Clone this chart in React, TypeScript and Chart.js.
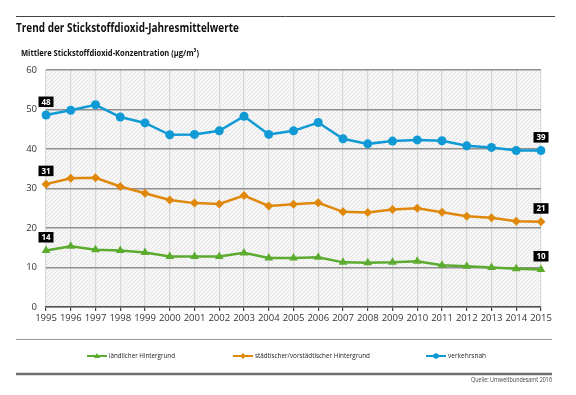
import React, { useEffect, useRef } from "react";
import { Chart, registerables } from "chart.js";

Chart.register(...registerables);

const years = ["1995","1996","1997","1998","1999","2000","2001","2002","2003","2004","2005","2006","2007","2008","2009","2010","2011","2012","2013","2014","2015"];
const laendlich = [14.3,15.4,14.5,14.3,13.8,12.8,12.8,12.8,13.7,12.4,12.4,12.6,11.3,11.2,11.3,11.6,10.6,10.3,10.0,9.7,9.5];
const staedtisch = [31.1,32.6,32.7,30.5,28.8,27.1,26.3,26.1,28.2,25.6,26.0,26.4,24.1,23.9,24.7,25.0,24.0,23.0,22.6,21.7,21.6];
const verkehrsnah = [48.6,49.8,51.2,48.1,46.6,43.6,43.7,44.6,48.3,43.7,44.6,46.7,42.6,41.3,42.0,42.3,42.1,40.8,40.4,39.6,39.6];
const startLabels = ["14","31","48"];
const endLabels = ["10","21","39"];
const seriesNames = ["ländlicher Hintergrund","städtischer/vorstädtischer Hintergrund","verkehrsnah"];
const yTicks = [0,10,20,30,40,50,60];

const GREEN = "#5bab2f";
const ORANGE = "#e0880b";
const BLUE = "#0f9ad6";
const FONT = "'Open Sans', 'Noto Sans', sans-serif";

export default function App() {
  const ref = useRef<HTMLCanvasElement | null>(null);
  useEffect(() => {
    document.body.style.margin = "0";
    const canvas = ref.current!;
    const pc = document.createElement("canvas");
    pc.width = 4; pc.height = 4;
    const pctx = pc.getContext("2d")!;
    pctx.fillStyle = "#f6f6f6";
    pctx.fillRect(0, 0, 4, 4);
    pctx.strokeStyle = "#e1e1e1";
    pctx.lineWidth = 0.8;
    pctx.beginPath();
    pctx.moveTo(0, 4); pctx.lineTo(4, 0);
    pctx.moveTo(-1, 1); pctx.lineTo(1, -1);
    pctx.moveTo(3, 5); pctx.lineTo(5, 3);
    pctx.stroke();

    const colors = [GREEN, ORANGE, BLUE];
    const pointStyles = ["triangle", "rectRot", "circle"];

    const deco = {
      id: "deco",
      beforeDraw(chart: any) {
        const { ctx, chartArea } = chart;
        ctx.save();
        ctx.fillStyle = "#fff";
        ctx.fillRect(0, 0, chart.width, chart.height);
        const pat = ctx.createPattern(pc, "repeat");
        ctx.fillStyle = pat;
        ctx.fillRect(chartArea.left, chartArea.top, chartArea.right - chartArea.left, chartArea.bottom - chartArea.top);
        ctx.restore();
      },
      afterDraw(chart: any) {
        const ctx = chart.ctx;
        ctx.save();
        // rules
        ctx.strokeStyle = "#444";
        ctx.lineWidth = 1;
        ctx.beginPath(); ctx.moveTo(16, 16.5); ctx.lineTo(555, 16.5); ctx.stroke();
        ctx.strokeStyle = "#999";
        ctx.beginPath(); ctx.moveTo(16, 339.5); ctx.lineTo(552, 339.5); ctx.stroke();
        ctx.strokeStyle = "#6e6e6e";
        ctx.lineWidth = 2.5;
        ctx.beginPath(); ctx.moveTo(16, 374); ctx.lineTo(552, 374); ctx.stroke();
        // title
        ctx.fillStyle = "#111";
        ctx.textAlign = "left";
        ctx.textBaseline = "alphabetic";
        ctx.font = `bold 13px ${FONT}`;
        ctx.fillText("Trend der Stickstoffdioxid-Jahresmittelwerte", 16, 31.5, 223);
        ctx.font = `bold 9.5px ${FONT}`;
        ctx.fillText("Mittlere Stickstoffdioxid-Konzentration (µg/m³)", 21, 56, 178);
        // legend
        const legendX = [87, 233, 426];
        const legendW = [66, 115, 38];
        for (let i = 0; i < 3; i++) {
          const x = legendX[i];
          const y = 356;
          ctx.strokeStyle = colors[i];
          ctx.lineWidth = 2;
          ctx.beginPath(); ctx.moveTo(x, y); ctx.lineTo(x + 20, y); ctx.stroke();
          ctx.fillStyle = colors[i];
          ctx.beginPath();
          if (i === 0) { ctx.moveTo(x + 10, y - 3); ctx.lineTo(x + 13, y + 2); ctx.lineTo(x + 7, y + 2); ctx.closePath(); }
          else if (i === 1) { ctx.moveTo(x + 10, y - 3); ctx.lineTo(x + 13, y); ctx.lineTo(x + 10, y + 3); ctx.lineTo(x + 7, y); ctx.closePath(); }
          else { ctx.arc(x + 10, y, 2.8, 0, Math.PI * 2); }
          ctx.fill();
          ctx.fillStyle = "#222";
          ctx.font = `7.5px ${FONT}`;
          ctx.textBaseline = "middle";
          ctx.fillText(seriesNames[i], x + 22, y, legendW[i]);
        }
        // source
        ctx.textAlign = "right";
        ctx.textBaseline = "middle";
        ctx.font = `6.5px ${FONT}`;
        ctx.fillStyle = "#444";
        ctx.fillText("Quelle: Umweltbundesamt 2016", 552, 380, 81);
        // data labels
        const drawBox = (px: number, py: number, txt: string) => {
          const w = 15, h = 10.5;
          const bx = px - w / 2;
          const by = py - 8 - h;
          ctx.fillStyle = "#000";
          ctx.fillRect(bx, by, w, h);
          ctx.fillStyle = "#fff";
          ctx.font = `bold 8px ${FONT}`;
          ctx.textAlign = "center";
          ctx.textBaseline = "middle";
          ctx.fillText(txt, px, by + h / 2 + 0.5, 12);
        };
        for (let i = 0; i < 3; i++) {
          const meta = chart.getDatasetMeta(i);
          const first = meta.data[0];
          const last = meta.data[meta.data.length - 1];
          drawBox(first.x, first.y, startLabels[i]);
          drawBox(last.x, last.y, endLabels[i]);
        }
        ctx.restore();
      },
    };

    const mk = (label: string, data: number[], i: number) => ({
      label,
      data,
      borderColor: colors[i],
      backgroundColor: colors[i],
      borderWidth: 2.5,
      pointStyle: pointStyles[i],
      pointRadius: i === 0 ? 5 : 4.5,
      pointBorderWidth: 0,
      tension: 0,
      fill: false,
    });

    const chart = new Chart(canvas, {
      type: "line",
      data: {
        labels: years,
        datasets: [mk(seriesNames[0], laendlich, 0), mk(seriesNames[1], staedtisch, 1), mk(seriesNames[2], verkehrsnah, 2)],
      },
      options: {
        responsive: false,
        animation: false,
        devicePixelRatio: 1,
        layout: { padding: { left: 0, right: 35, top: 70, bottom: 68 } },
        plugins: { legend: { display: false }, tooltip: { enabled: false }, title: { display: false } },
        scales: {
          x: {
            grid: { color: "#d8d8d8", lineWidth: 1.2, tickColor: "#444", tickLength: 4, drawOnChartArea: true },
            border: { display: true, color: "#555", width: 1.5 },
            ticks: { font: { size: 9.5, family: FONT }, color: "#333", maxRotation: 0, autoSkip: false, padding: 2 },
            afterFit(s: any) { s.height = 20; },
          },
          y: {
            min: 0, max: 60,
            afterBuildTicks(s: any) { s.ticks = yTicks.map((v) => ({ value: v })); },
            grid: { color: "#8f8f8f", lineWidth: 1.6, drawTicks: false },
            border: { display: false },
            ticks: { font: { size: 9.5, family: FONT }, color: "#333", padding: 9 },
            afterFit(s: any) { s.width = 46; },
          },
        },
      },
      plugins: [deco],
    } as any);
    return () => chart.destroy();
  }, []);
  return <canvas ref={ref} width={576} height={395} style={{ display: "block" }} />;
}
